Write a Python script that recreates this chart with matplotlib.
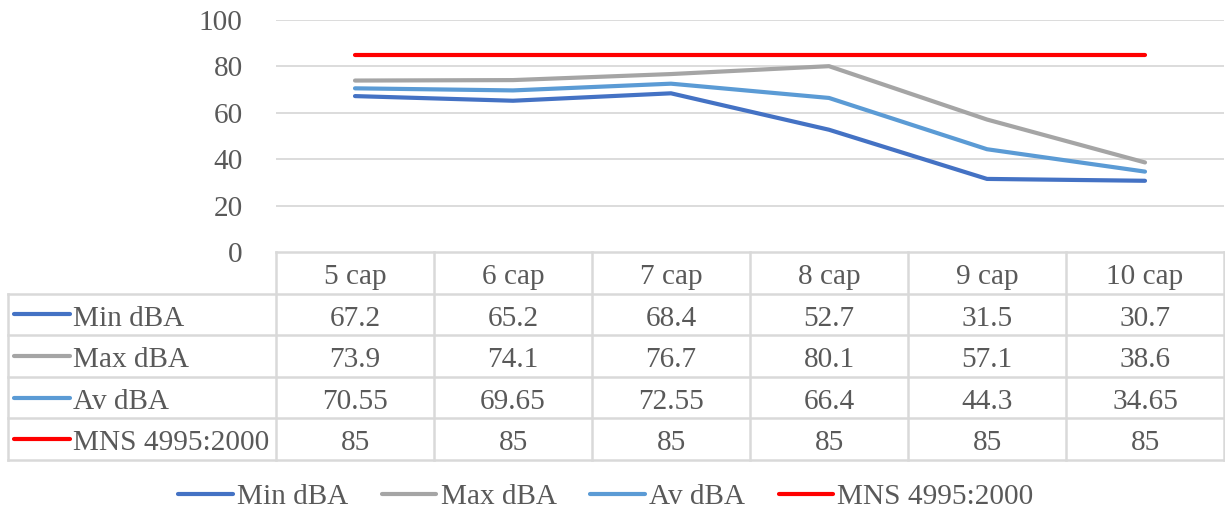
import matplotlib.pyplot as plt
from matplotlib.lines import Line2D

categories = ["5 cap", "6 cap", "7 cap", "8 cap", "9 cap", "10 cap"]
min_dba = [67.2, 65.2, 68.4, 52.7, 31.5, 30.7]
max_dba = [73.9, 74.1, 76.7, 80.1, 57.1, 38.6]
av_dba = [70.55, 69.65, 72.55, 66.4, 44.3, 34.65]
mns = [85, 85, 85, 85, 85, 85]
yticks = [0, 20, 40, 60, 80, 100]

series = [
    ("Min dBA", min_dba, "#4472C4", ["67.2", "65.2", "68.4", "52.7", "31.5", "30.7"]),
    ("Max dBA", max_dba, "#A5A5A5", ["73.9", "74.1", "76.7", "80.1", "57.1", "38.6"]),
    ("Av dBA", av_dba, "#5B9BD5", ["70.55", "69.65", "72.55", "66.4", "44.3", "34.65"]),
    ("MNS 4995:2000", mns, "#FF0000", ["85", "85", "85", "85", "85", "85"]),
]

TEXT = "#595959"
GRID = "#D9D9D9"
FS = 21.1
W, H = 1225, 512

plt.rcParams["font.family"] = ["Liberation Serif", "DejaVu Serif"]

fig = plt.figure(figsize=(W / 100, H / 100), dpi=100)

left_px, right_px = 276, 1224
plot_top, plot_bot = 20, 252
tab_bot = 460
label_left_px = 8

ax = fig.add_axes([left_px / W, 1 - plot_bot / H, (right_px - left_px) / W,
                   (plot_bot - plot_top) / H])
x = list(range(len(categories)))
for name, vals, color, _ in series:
    ax.plot(x, vals, color=color, lw=3.0, solid_capstyle="round",
            solid_joinstyle="round", zorder=3)
ax.set_xlim(-0.5, len(categories) - 0.5)
ax.set_ylim(0, 100)
ax.set_yticks(yticks)
ax.set_xticks([])
for s in ax.spines.values():
    s.set_visible(False)
ax.tick_params(axis="y", length=0, pad=24, labelsize=FS, labelcolor=TEXT)
for t in yticks[1:]:
    ax.axhline(t, color=GRID, lw=1.3, zorder=1)

# data table
tax = fig.add_axes([left_px / W, 1 - tab_bot / H, (right_px - left_px) / W,
                    (tab_bot - plot_bot) / H])
tax.set_xlim(-0.5, len(categories) - 0.5)
tax.set_ylim(len(series) + 1, 0)
tax.axis("off")
col_w = (right_px - left_px) / len(categories)
lab_x = -0.5 - (left_px - label_left_px) / col_w
n_rows = len(series) + 1
kw = dict(color=GRID, lw=1.8, clip_on=False)
tax.plot([-0.5, len(categories) - 0.5], [0, 0], **kw)
for r in range(1, n_rows + 1):
    tax.plot([lab_x, len(categories) - 0.5], [r, r], **kw)
tax.plot([lab_x, lab_x], [1, n_rows], **kw)
for c in range(len(categories) + 1):
    tax.plot([c - 0.5, c - 0.5], [0, n_rows], **kw)
ty = 0.6
for c, cat in enumerate(categories):
    tax.text(c, ty, cat, ha="center", va="center", fontsize=FS, color=TEXT)
key_len = 56 / col_w
for r, (name, vals, color, labels) in enumerate(series, start=1):
    kx = lab_x + 6 / col_w
    tax.plot([kx, kx + key_len], [r + 0.5, r + 0.5], color=color, lw=3.0,
             solid_capstyle="round", clip_on=False)
    tax.text(kx + key_len + 3 / col_w, r + ty, name, ha="left", va="center",
             fontsize=FS, color=TEXT)
    for c, lab in enumerate(labels):
        tax.text(c, r + ty, lab, ha="center", va="center", fontsize=FS,
                 color=TEXT)

handles = [Line2D([0], [0], color=color, lw=3.0, solid_capstyle="round")
           for _, _, color, _ in series]
leg = fig.legend(handles, [s[0] for s in series], loc="center", ncol=4,
                 bbox_to_anchor=(606 / W, 1 - 497 / H), frameon=False,
                 fontsize=FS, handlelength=1.85, handletextpad=0.15,
                 columnspacing=1.15)
for t in leg.get_texts():
    t.set_color(TEXT)

fig.savefig("out.png", dpi=100, facecolor="white")
